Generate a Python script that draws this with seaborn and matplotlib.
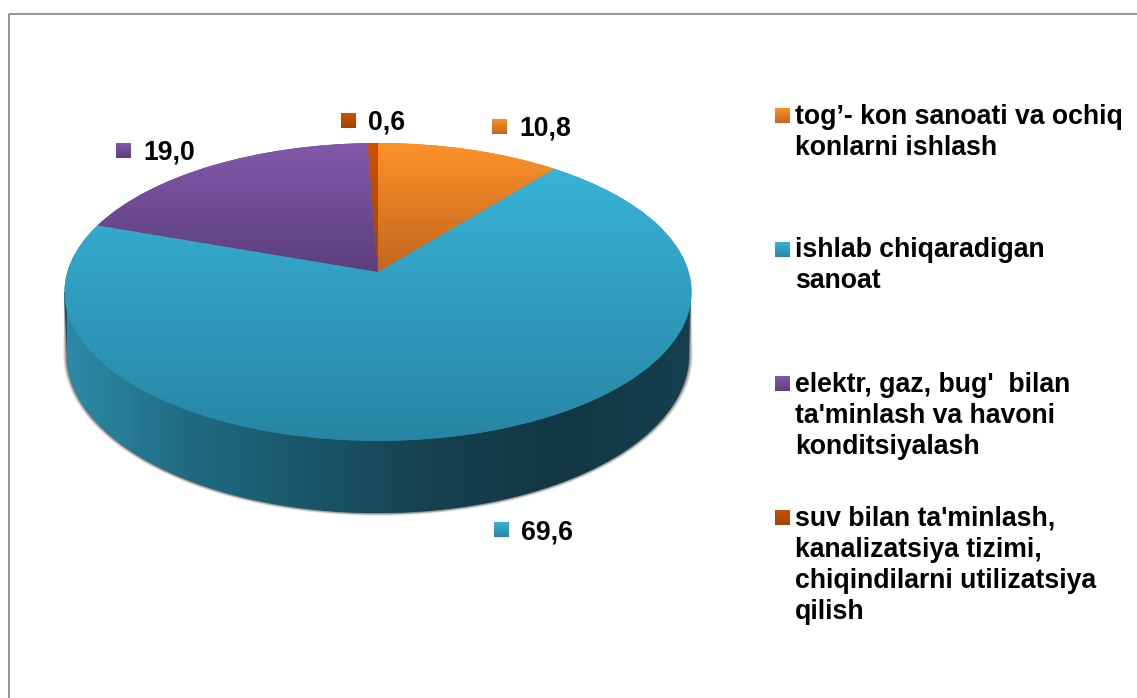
import numpy as np
import seaborn as sns
import matplotlib
matplotlib.use("Agg")
import matplotlib.pyplot as plt
from matplotlib.transforms import Transform

categories = ["tog’- kon sanoati va ochiq\nkonlarni ishlash",
              "ishlab chiqaradigan\nsanoat",
              "elektr, gaz, bug'  bilan\nta'minlash va havoni\nkonditsiyalash",
              "suv bilan ta'minlash,\nkanalizatsiya tizimi,\nchiqindilarni utilizatsiya\nqilish"]
values = [10.8, 69.6, 19.0, 0.6]

# top colour / bottom colour of each slice
tops = ["#fc922a", "#38b3d6", "#8259aa", "#cc5200"]
bottoms = ["#c4651c", "#2785a3", "#5c3e7c", "#a04400"]
rim_colors = ["#2d8aa6", "#1f6a82", "#195566", "#16404f", "#123743", "#153f4f"]

# layout in pixels
label_keys = [(492, 119), (494, 522), (116, 143), (341, 113)]
label_text = [(519, 135), (521, 540), (143, 160), (368, 130)]
legend_keys = [108, 242, 376, 510]
legend_base = [124, 257, 392, 526]
line_step = 31

sns.set_theme(style="white")
plt.rcParams["font.family"] = ["Liberation Sans", "DejaVu Sans"]


class Perspective(Transform):
    # tilted view of the unit circle, apex stays above the ellipse centre
    input_dims = 2
    output_dims = 2

    def transform_non_affine(self, xy):
        xy = np.asarray(xy)
        w = 1 + 0.134 * xy[:, 1]
        return np.column_stack([378 + 310.7 * xy[:, 0] / w, (272 - 109.8 * xy[:, 1]) / w])


def grad(ax, x0, x1, y0, y1, colors, horizontal=False, clip=None, z=4):
    cmap = sns.blend_palette(colors, as_cmap=True)
    g = np.linspace(0, 1, 256)
    g = g.reshape(1, -1) if horizontal else g.reshape(-1, 1)
    im = ax.imshow(g, cmap=cmap, extent=(x0, x1, y1, y0), aspect="auto", zorder=z, vmin=0, vmax=1)
    if clip is not None:
        im.set_clip_path(clip)
    return im


fig = plt.figure(figsize=(11.37, 6.98), dpi=100)
ax = fig.add_axes([0, 0, 1, 1])

wedges, _ = ax.pie(values, colors=bottoms, startangle=90, counterclock=False,
                   wedgeprops={"linewidth": 0, "zorder": 3})
persp = Perspective()
for w, c1, c2 in zip(wedges, tops, bottoms):
    w.set_transform(persp + ax.transData)
    y = persp.transform_non_affine(w.get_path().interpolated(8).vertices)[:, 1]
    y = y[np.isfinite(y)]
    grad(ax, 0, 1137, y.min(), y.max(), [c1, c2], clip=w)

# side of the disc and its soft shadow
t = np.linspace(np.pi, 0, 200)
rim_x = np.r_[378 + 311 * np.cos(t), 691, 64]
rim_y = np.r_[355 + 158 * np.sin(t), 292, 292]
for grow, a in zip([4, 3, 2, 1], [0.12, 0.2, 0.3, 0.45]):
    sx = np.r_[378 + (311 + grow) * np.cos(t), 691, 64]
    sy = np.r_[355 + (158 + grow * 0.7) * np.sin(t), 292, 292]
    ax.fill(sx, sy, color="#555555", alpha=a, lw=0, zorder=1)
rim = ax.fill(rim_x, rim_y, color=rim_colors[2], lw=0, zorder=2)[0]
grad(ax, 67, 689, 280, 520, rim_colors, horizontal=True, clip=rim, z=2.5)

# data labels with their little keys
for v, (kx, ky), (tx, ty), c1, c2 in zip(values, label_keys, label_text, tops, bottoms):
    grad(ax, kx, kx + 15, ky, ky + 15, [c1, c2], z=5)
    ax.text(tx, ty, f"{v:.1f}".replace(".", ","), fontsize=19.2, fontweight="bold",
            color="black", va="baseline", ha="left", zorder=6)

# legend, one text per line to keep the line spacing
for name, ky, base, c1, c2 in zip(categories, legend_keys, legend_base, tops, bottoms):
    grad(ax, 775, 790, ky, ky + 15, [c1, c2], z=5)
    for i, line in enumerate(name.split("\n")):
        ax.text(795, base + i * line_step, line, fontsize=19.2, fontweight="bold",
                color="black", va="baseline", ha="left", zorder=6)

ax.set_xlim(0, 1137)
ax.set_ylim(698, 0)
ax.set_aspect("auto")
ax.axis("off")

# chart area border, only left and top are in the picture
ax.plot([8.5, 8.5, 1137], [698, 13.5, 13.5], color="#8c8c8c", lw=1.3, zorder=0, clip_on=False)

fig.savefig("out.png", dpi=100, facecolor="white")
